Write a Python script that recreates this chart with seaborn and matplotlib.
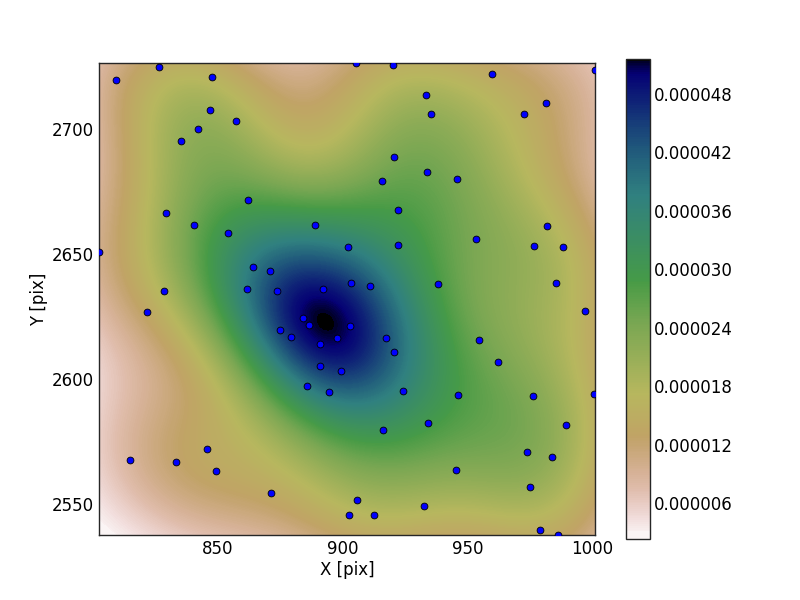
import matplotlib
matplotlib.use("Agg")
import matplotlib.pyplot as plt
import numpy as np
import seaborn as sns

# star positions
x_pix = [809.5, 826.7, 847.9, 847.1, 857.5, 842.3, 835.5, 862.3, 829.5, 840.7,
         854.3, 889.1, 902.1, 802.6, 864.3, 871.1, 861.9, 873.9, 892.3, 828.7,
         903.5, 905.4, 920.3, 959.9, 1001.0, 933.5, 935.5, 972.7, 981.5, 920.7,
         933.9, 915.9, 945.9, 922.3, 981.9, 953.5, 976.7, 988.3, 922.3, 911.1,
         938.3, 985.5, 821.9, 884.3, 886.7, 875.1, 879.5, 897.9, 891.1, 903.0,
         891.1, 899.5, 885.9, 894.7, 845.9, 815.1, 833.5, 849.5, 871.5, 902.7,
         997.1, 954.7, 962.3, 917.5, 920.7, 924.3, 946.3, 976.3, 1000.6, 934.3,
         989.5, 916.3, 973.9, 983.9, 945.5, 975.1, 905.9, 932.7, 912.7, 979.1,
         986.3]
y_pix = [2719.6, 2724.8, 2720.8, 2707.6, 2703.2, 2700.0, 2695.2, 2671.6, 2666.4, 2661.6,
         2658.4, 2661.6, 2652.8, 2650.8, 2644.8, 2643.2, 2636.0, 2635.2, 2636.0, 2635.2,
         2638.4, 2726.5, 2725.6, 2722.0, 2723.6, 2713.6, 2706.0, 2706.0, 2710.4, 2688.8,
         2682.8, 2679.2, 2680.0, 2667.6, 2661.2, 2656.0, 2653.2, 2652.8, 2653.6, 2637.2,
         2638.0, 2638.4, 2626.8, 2624.4, 2621.6, 2619.6, 2616.8, 2616.4, 2614.0, 2621.2,
         2605.2, 2603.2, 2597.2, 2594.8, 2572.0, 2567.6, 2566.8, 2563.2, 2554.4, 2545.6,
         2627.2, 2615.6, 2606.8, 2616.4, 2610.8, 2595.2, 2593.6, 2593.2, 2594.0, 2582.4,
         2581.6, 2579.6, 2570.8, 2568.8, 2563.6, 2556.8, 2551.6, 2549.2, 2545.6, 2539.6,
         2537.7]

x_ticks = [850, 900, 950, 1000]
y_ticks = [2550, 2600, 2650, 2700]
cbar_ticks = [0.000006, 0.000012, 0.000018, 0.000024, 0.000030, 0.000036, 0.000042, 0.000048]

sns.set_theme(style="ticks", rc={
    "font.size": 12,
    "axes.labelsize": 12,
    "xtick.labelsize": 12,
    "ytick.labelsize": 12,
    "xtick.direction": "in",
    "ytick.direction": "in",
    "xtick.top": True,
    "ytick.right": True,
    "xtick.major.size": 4,
    "ytick.major.size": 4,
    "axes.linewidth": 1,
    "xtick.color": "black",
    "ytick.color": "black",
    "axes.labelcolor": "black",
    "text.color": "black",
})
plt.rcParams["font.family"] = ["DejaVu Sans"]

fig = plt.figure(figsize=(8, 6), dpi=100)
ax = fig.add_axes([99 / 800, 1 - 535 / 600, 496 / 800, 472 / 600])
cax = fig.add_axes([626 / 800, 1 - 539 / 600, 24 / 800, 480 / 600])

# kdeplot levels are mass proportions, so pack them tight at both ends
# otherwise the corners and the peak show big flat bands
low_end = np.geomspace(1e-4, 0.05, 120)
high_end = 1 - np.geomspace(0.05, 2e-3, 60)
kde_levels = np.concatenate([[0], low_end, np.linspace(0.05, 0.95, 300)[1:-1], high_end, [1]])

sns.kdeplot(x=x_pix, y=y_pix, ax=ax, fill=True, levels=kde_levels, thresh=0, cut=0,
            gridsize=250, cmap="gist_earth_r", antialiased=False,
            cbar=True, cbar_ax=cax,
            cbar_kws={"ticks": cbar_ticks, "format": "%.6f", "spacing": "proportional"})
sns.scatterplot(x=x_pix, y=y_pix, ax=ax, color="blue", edgecolor="black",
                linewidth=0.6, s=24, zorder=3)

ax.set_xlim(min(x_pix), max(x_pix))
ax.set_ylim(min(y_pix), max(y_pix))
ax.set_xticks(x_ticks)
ax.set_yticks(y_ticks)
ax.set_xlabel("X [pix]", labelpad=2)
ax.set_ylabel("Y [pix]", labelpad=3)
cax.tick_params(direction="in", length=4, right=True, labelsize=12, pad=3)

fig.savefig("out.png", dpi=100)
